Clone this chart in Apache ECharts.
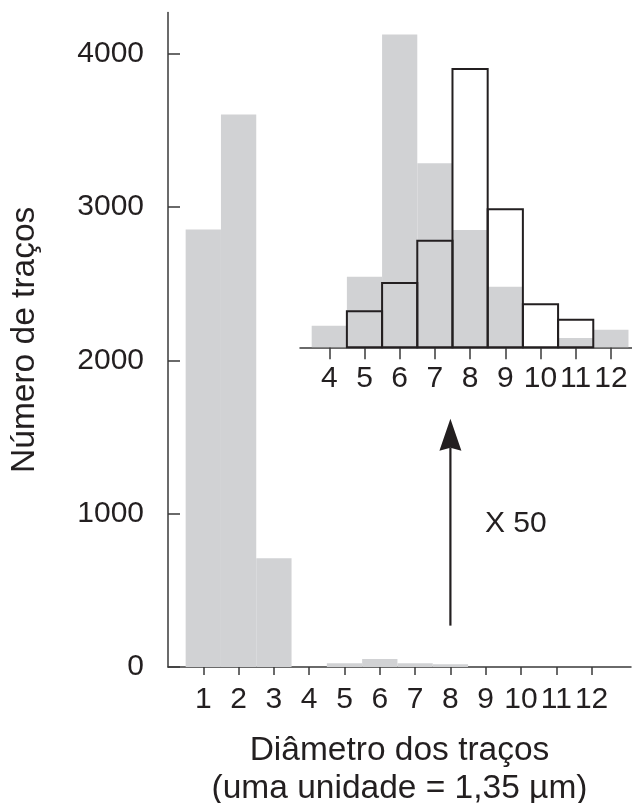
<!DOCTYPE html>
<html>
<head>
<meta charset="utf-8">
<script src="https://cdn.jsdelivr.net/npm/echarts@6/dist/echarts.min.js"></script>
<style>
html,body{margin:0;padding:0;background:#fff;}
#chart{width:632px;height:803px;}
</style>
</head>
<body>
<div id="chart"></div>
<script>
// ---- data ----
const mainBins = [1, 2, 3, 4, 5, 6, 7, 8, 9, 10, 11, 12];
const mainCounts = [2855, 3605, 710, 0, 24, 52, 24, 18, 0, 0, 0, 0];
const mainYTicks = [0, 1000, 2000, 3000, 4000];

const insetBins = [4, 5, 6, 7, 8, 9, 10, 11, 12];
const insetGray = [140, 460, 2040, 1200, 765, 395, 0, 60, 115];      // shown x 50
const insetOutline = [0, 235, 420, 695, 1815, 900, 280, 180, 0];    // shown x 50

const arrowBin = 8, arrowFrom = 270, arrowTo = 1620;

const yTitle = 'Número de traços';
const xTitle = 'Diâmetro dos traços\n(uma unidade = 1,35 µm)';
const scaleText = 'X 50';

// ---- styles ----
const FONT = 'Liberation Sans, Arial, Helvetica, sans-serif';
const INK = '#231f20';
const AXIS = '#3a3a3a';
const GRAY = '#d1d2d4';

function pairs(bins, vals) { return bins.map((b, i) => [b, vals[i]]); }

function histRender(kind) {
  return function (params, api) {
    const x = api.value(0), y = api.value(1);
    if (!y) return null;
    const p0 = api.coord([x - 0.5, y]);
    const p1 = api.coord([x + 0.5, 0]);
    const shape = { x: p0[0], y: p0[1], width: p1[0] - p0[0], height: p1[1] - p0[1] };
    if (kind === 'fill') {
      return { type: 'rect', shape, style: { fill: GRAY } };
    }
    return { type: 'rect', shape, style: { fill: 'none', stroke: INK, lineWidth: 2 } };
  };
}

function arrowRender(params, api) {
  const x = api.value(0);
  const a = api.coord([x, api.value(1)]);
  const b = api.coord([x, api.value(2)]);
  const headLen = 32, headHalf = 11, notch = 3;
  return {
    type: 'group',
    children: [
      { type: 'line', shape: { x1: a[0], y1: a[1], x2: b[0], y2: b[1] + headLen - notch },
        style: { stroke: INK, lineWidth: 2.2 } },
      { type: 'polygon', shape: { points: [
          [b[0], b[1]], [b[0] + headHalf, b[1] + headLen], [b[0], b[1] + headLen - notch], [b[0] - headHalf, b[1] + headLen]
        ] }, style: { fill: INK } }
    ]
  };
}

const chart = echarts.init(document.getElementById('chart'), null, { renderer: 'canvas' });

const labelStyle = { color: INK, fontFamily: FONT, fontSize: 30, formatter: v => String(v) };

chart.setOption({
  animation: false,
  backgroundColor: '#fff',
  grid: [
    { left: 168, right: 1, top: 12.6, bottom: 136, outerBoundsMode: 'none', containLabel: false },
    { left: 300, right: 0, top: 10, bottom: 455.7, outerBoundsMode: 'none', containLabel: false }
  ],
  xAxis: [
    {
      type: 'value', gridIndex: 0, min: 0, max: 13.116, interval: 1,
      axisLine: { show: true, onZero: false, lineStyle: { color: AXIS, width: 1.5 } },
      axisTick: { show: true, length: 8, customValues: mainBins, lineStyle: { color: AXIS, width: 1.5 } },
      axisLabel: Object.assign({ margin: 18, customValues: mainBins }, labelStyle),
      splitLine: { show: false },
      name: xTitle, nameLocation: 'middle', nameGap: 65,
      nameTextStyle: { color: INK, fontFamily: FONT, fontSize: 33.5, lineHeight: 38 }
    },
    {
      type: 'value', gridIndex: 1, min: 3.168, max: 12.6, interval: 1,
      axisLine: { show: true, onZero: false, lineStyle: { color: AXIS, width: 1.5 } },
      axisTick: { show: true, length: 12, customValues: insetBins, lineStyle: { color: AXIS, width: 1.5 } },
      axisLabel: Object.assign({ margin: 16, customValues: insetBins }, labelStyle),
      splitLine: { show: false }
    }
  ],
  yAxis: [
    {
      type: 'value', gridIndex: 0, min: 0, max: 4270, interval: 1000,
      axisLine: { show: true, lineStyle: { color: AXIS, width: 1.5 } },
      axisTick: { show: true, inside: true, length: 12, customValues: mainYTicks, lineStyle: { color: AXIS, width: 1.5 } },
      axisLabel: Object.assign({ margin: 24, customValues: mainYTicks }, labelStyle),
      splitLine: { show: false },
      name: yTitle, nameLocation: 'middle', nameGap: 126,
      nameTextStyle: { color: INK, fontFamily: FONT, fontSize: 33.5 }
    },
    {
      type: 'value', gridIndex: 1, min: 0, max: 2200, show: false, splitLine: { show: false }
    }
  ],
  series: [
    { type: 'custom', xAxisIndex: 0, yAxisIndex: 0, data: pairs(mainBins, mainCounts), renderItem: histRender('fill'), z: 2 },
    { type: 'custom', xAxisIndex: 1, yAxisIndex: 1, data: pairs(insetBins, insetGray), renderItem: histRender('fill'), z: 2 },
    { type: 'custom', xAxisIndex: 1, yAxisIndex: 1, data: pairs(insetBins, insetOutline), renderItem: histRender('line'), z: 3 },
    { type: 'custom', xAxisIndex: 0, yAxisIndex: 0, data: [[arrowBin, arrowFrom, arrowTo]], renderItem: arrowRender, z: 4 }
  ],
  graphic: [
    { type: 'text', left: 485, top: 509, style: { text: scaleText, fill: INK, font: '30px ' + FONT } }
  ]
});
</script>
</body>
</html>
